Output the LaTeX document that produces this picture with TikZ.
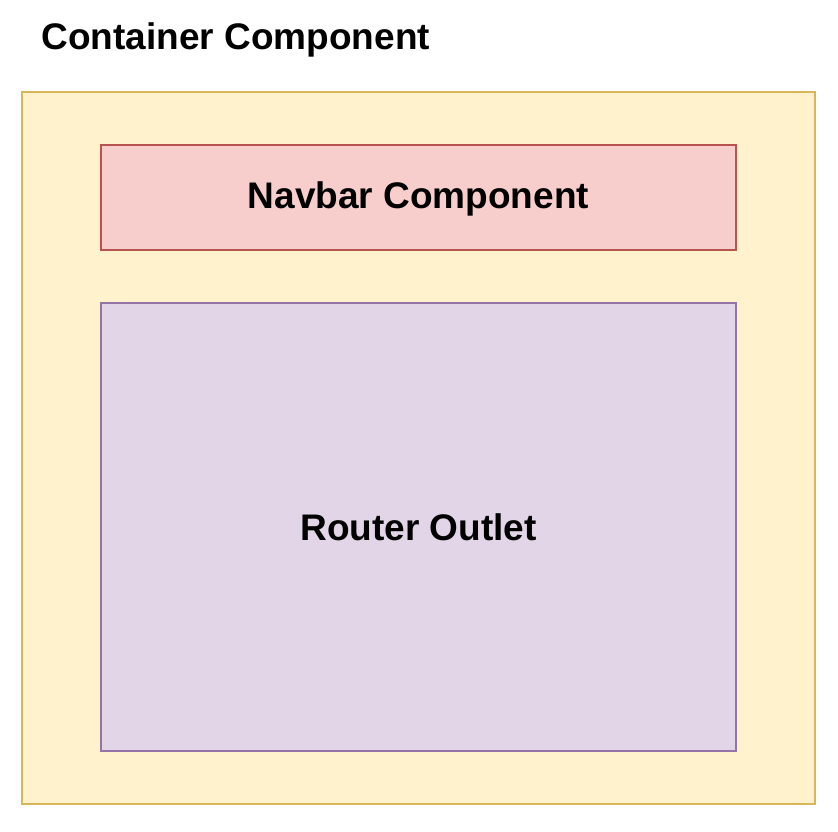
\documentclass[tikz,border=0pt]{standalone}
\usepackage{fontspec}
\setmainfont{Liberation Sans}
\definecolor{yfill}{HTML}{FFF2CC}\definecolor{ydraw}{HTML}{D6B656}
\definecolor{rfill}{HTML}{F8CECC}\definecolor{rdraw}{HTML}{B85450}
\definecolor{pfill}{HTML}{E1D5E7}\definecolor{pdraw}{HTML}{9673A6}
\begin{document}
\begin{tikzpicture}[x=1pt,y=-1pt,
  lbl/.style={font=\fontsize{37}{44}\selectfont\bfseries},
  boxstyle/.style={line width=2pt}]
\useasboundingbox (0,0) rectangle (838,832);
\path[boxstyle,fill=yfill,draw=ydraw] (22,92) rectangle (815,804);
\node[lbl,anchor=west] (title) at (38,40) {Container Component};
\node[boxstyle,fill=rfill,draw=rdraw,minimum width=635pt,minimum height=105pt] (nav) at (418.5,197.5) {};
\node[lbl] (navlbl) at (418.5,199) {Navbar Component};
\node[boxstyle,fill=pfill,draw=pdraw,minimum width=635pt,minimum height=448pt,lbl] (router) at (418.5,527) {Router Outlet};
\end{tikzpicture}
\end{document}
